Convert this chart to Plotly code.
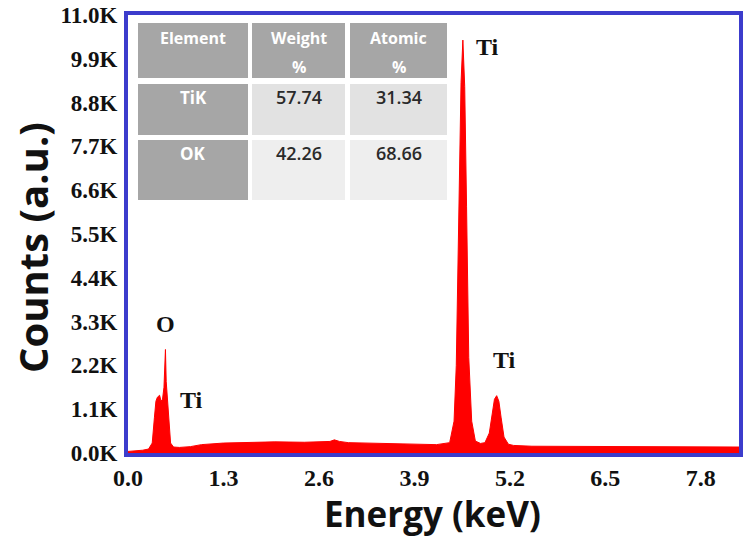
import plotly.graph_objects as go

# EDS spectrum (energy in keV, counts)
energy_kev = [0.00, 0.10, 0.20, 0.28, 0.33, 0.36, 0.38, 0.40, 0.43, 0.45, 0.47, 0.49, 0.50, 0.51,
              0.52, 0.54, 0.56, 0.58, 0.62, 0.70, 0.85, 1.00, 1.30, 1.60, 2.00, 2.40, 2.65, 2.75,
              2.81, 2.88, 3.00, 3.40, 3.80, 4.20, 4.38, 4.44, 4.47, 4.51, 4.535, 4.56, 4.585, 4.61,
              4.64, 4.68, 4.73, 4.80, 4.86, 4.92, 4.96, 4.99, 5.02, 5.05, 5.08, 5.12, 5.18, 5.25,
              5.50, 6.50, 7.50, 8.32]
counts = [40, 50, 70, 100, 250, 900, 1300, 1400, 1450, 1300, 1350, 1650, 2000, 2600,
          1800, 1250, 600, 250, 150, 140, 160, 210, 250, 270, 280, 270, 275, 290,
          330, 290, 260, 240, 220, 210, 260, 800, 2200, 6500, 9300, 10370, 9200, 6200,
          2400, 800, 300, 240, 260, 500, 1000, 1350, 1440, 1300, 900, 400, 220, 190,
          170, 160, 150, 150]

x_tick_vals = [0.0, 1.3, 2.6, 3.9, 5.2, 6.5, 7.8]
x_tick_text = ["0.0", "1.3", "2.6", "3.9", "5.2", "6.5", "7.8"]
y_tick_vals = [0, 1100, 2200, 3300, 4400, 5500, 6600, 7700, 8800, 9900, 11000]
y_tick_text = ["0.0K", "1.1K", "2.2K", "3.3K", "4.4K", "5.5K", "6.6K", "7.7K", "8.8K", "9.9K", "11.0K"]

# Peak labels
peak_labels = ["O", "Ti", "Ti", "Ti"]
peak_label_x = [0.51, 0.86, 4.90, 5.12]
peak_label_y = [3250, 1330, 10200, 2330]

# Quantification table
header_line1 = ["Element", "Weight", "Atomic"]
header_line2 = ["", "%", "%"]
table_elements = ["TiK", "OK"]
table_weight = ["57.74", "42.26"]
table_atomic = ["31.34", "68.66"]

W, H = 743, 540
ML, MT, MR, MB = 128, 15, 4, 87
PW, PH = W - ML - MR, H - MT - MB


def px(xp):
    return (xp - ML) / PW


def py(yp):
    return (H - MB - yp) / PH


fig = go.Figure()

fig.add_trace(go.Scatter(
    x=energy_kev, y=counts, mode="lines",
    line=dict(color="#ff0000", width=1),
    fill="tozeroy", fillcolor="#ff0000",
    showlegend=False, hoverinfo="x+y",
))

# Table drawn as shapes + annotations
col_edges = [(138, 248), (252, 345), (350, 447)]
row_edges = [(23, 78), (84, 135), (140, 200)]
dark, light1, light2 = "#a6a6a6", "#e2e2e2", "#eeeeee"
row_fill = [light1, light2]
for ci, (x0, x1) in enumerate(col_edges):
    for ri, (y0, y1) in enumerate(row_edges):
        if ri == 0 or ci == 0:
            fc = dark
        else:
            fc = row_fill[ri - 1]
        fig.add_shape(type="rect", xref="paper", yref="paper",
                      x0=px(x0), x1=px(x1), y0=py(y1), y1=py(y0),
                      fillcolor=fc, line=dict(width=0), layer="above")


def label(xp, yp, text, font, **kw):
    fig.add_annotation(x=px(xp), y=py(yp), xref="paper", yref="paper", text=text,
                       showarrow=False, xanchor="center", yanchor="middle", font=font, **kw)


body_cols = [table_elements, table_weight, table_atomic]
head_font = dict(family="Open Sans", size=16, color="white", weight="bold")
for ci, (x0, x1) in enumerate(col_edges):
    cx = (x0 + x1) / 2
    label(cx, 38, header_line1[ci], head_font)
    if header_line2[ci]:
        label(cx, 67, header_line2[ci], head_font)
    for ri, val in enumerate(body_cols[ci]):
        yc = [97, 153][ri]
        if ci == 0:
            f = dict(family="Open Sans", size=17, color="white", weight="bold")
        else:
            f = dict(family="Open Sans", size=18, color="#2a2a2a", weight=600)
        label(cx, yc, val, f)

for txt, xv, yv in zip(peak_labels, peak_label_x, peak_label_y):
    fig.add_annotation(x=xv, y=yv, text=txt, showarrow=False, xref="x", yref="y",
                       xanchor="center", yanchor="middle",
                       font=dict(family="Liberation Serif", size=24, color="#111111", weight="bold"))

# Axis titles
label(432, 513, "Energy (keV)", dict(family="Open Sans", size=35, color="#111111", weight="bold"))
label(32, 248, "Counts (a.u.)", dict(family="Open Sans", size=40, color="#111111", weight="bold"),
      textangle=-90)

fig.update_xaxes(
    range=[0, 8.32], tickvals=x_tick_vals, ticktext=x_tick_text,
    showgrid=False, zeroline=False, ticks="", ticklabelstandoff=0, automargin=False,
    showline=True, mirror=True, linecolor="#3c3ccc", linewidth=4,
    tickfont=dict(family="Liberation Serif", size=24, color="#111111", weight="bold"),
)
fig.update_yaxes(
    range=[0, 11000], tickvals=y_tick_vals, ticktext=y_tick_text,
    showgrid=False, zeroline=False, ticks="", ticklabelstandoff=2, automargin=False,
    showline=True, mirror=True, linecolor="#3c3ccc", linewidth=4,
    tickfont=dict(family="Liberation Serif", size=23, color="#111111", weight="bold"),
)

fig.update_layout(
    width=W, height=H,
    margin=dict(l=ML, r=MR, t=MT, b=MB),
    paper_bgcolor="white", plot_bgcolor="white",
)

# remove the browser's default 8px page margin so the figure fills the window
fig.write_html("out.html", config={"displayModeBar": False},
               post_script="document.body.style.margin='0';")
